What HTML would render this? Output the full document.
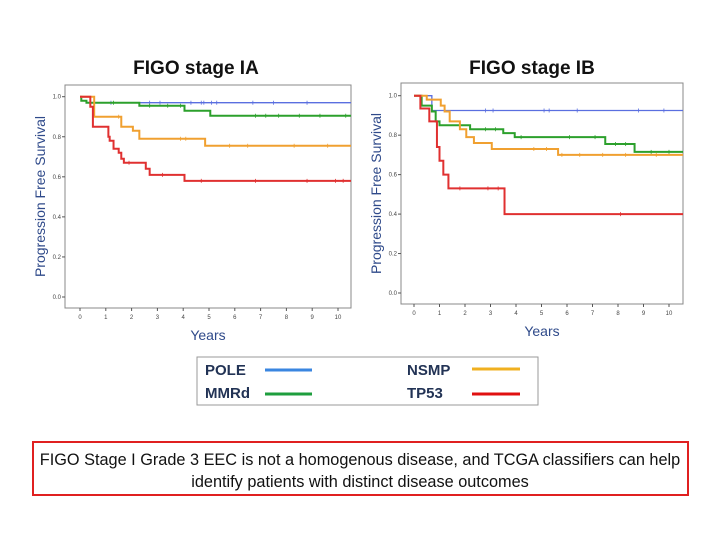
<!DOCTYPE html>
<html><head><meta charset="utf-8"><style>
body{margin:0;background:#fff;width:720px;height:540px;overflow:hidden;font-family:"Liberation Sans","DejaVu Sans",sans-serif}
</style></head><body>
<svg id="s" width="720" height="540" xmlns="http://www.w3.org/2000/svg">
<text x="196" y="74" text-anchor="middle" font-size="19" font-weight="bold" fill="#111">FIGO stage IA</text>
<text x="532" y="74" text-anchor="middle" font-size="19" font-weight="bold" fill="#111">FIGO stage IB</text>
<g id="p1"></g>
<g id="p2"></g>
<rect x="197" y="357" width="341" height="48" fill="none" stroke="#999"/>
<g font-size="15" fill="#223355" font-weight="bold">
<text x="205" y="375">POLE</text>
<text x="205" y="398">MMRd</text>
<text x="407" y="375">NSMP</text>
<text x="407" y="398">TP53</text>
</g>
<line x1="265" y1="370" x2="312" y2="370" stroke="#3a86e0" stroke-width="3"/>
<line x1="265" y1="394" x2="312" y2="394" stroke="#1e9e3e" stroke-width="3"/>
<line x1="472" y1="369" x2="520" y2="369" stroke="#f0b020" stroke-width="3"/>
<line x1="472" y1="394" x2="520" y2="394" stroke="#e01010" stroke-width="3"/>
<rect x="33" y="442" width="655" height="53" fill="none" stroke="#e02020" stroke-width="2"/>
<text x="360" y="465" text-anchor="middle" font-size="16.3" fill="#111">FIGO Stage I Grade 3 EEC is not a homogenous disease, and TCGA classifiers can help</text>
<text x="360" y="487" text-anchor="middle" font-size="16.3" fill="#111">identify patients with distinct disease outcomes</text>
</svg>
<script>
const yTicks=[0,0.2,0.4,0.6,0.8,1.0];
const yTickLabels=["0.0","0.2","0.4","0.6","0.8","1.0"];
const xTicks=[0,1,2,3,4,5,6,7,8,9,10];
const seriesNames=["POLE","MMRd","NSMP","TP53"];
const seriesColors=["#5a6fe0","#2ca02c","#f0a030","#e03030"];
// Stage IA: step times and survival values
const iaPoleT=[0,0.4], iaPoleV=[1,0.97];
const iaMmrdT=[0,0.05,0.25,2.3,4.05,5.05], iaMmrdV=[1,0.98,0.97,0.955,0.93,0.905];
const iaNsmpT=[0,0.55,1.6,2.05,2.3,4.85], iaNsmpV=[1,0.9,0.85,0.83,0.79,0.755];
const iaTp53T=[0,0.4,0.5,1.1,1.15,1.3,1.5,1.6,1.7,2.55,2.7,4.05], iaTp53V=[1,0.95,0.85,0.8,0.78,0.74,0.72,0.69,0.67,0.64,0.61,0.58];
// Stage IB
const ibPoleT=[0,0.7], ibPoleV=[1,0.925];
const ibMmrdT=[0,0.3,0.7,0.85,1.0,2.2,3.5,3.95,7.5,8.65], ibMmrdV=[1,0.95,0.92,0.87,0.85,0.83,0.81,0.79,0.755,0.715];
const ibNsmpT=[0,0.5,1.05,1.2,1.4,1.8,2.05,2.35,3.05,5.65], ibNsmpV=[1,0.98,0.95,0.92,0.87,0.83,0.79,0.76,0.73,0.70];
const ibTp53T=[0,0.25,0.6,0.9,1.0,1.15,1.35,3.55], ibTp53V=[1,0.935,0.87,0.74,0.67,0.6,0.53,0.40];
const iaCensor=[[1.2,2.7,3.1,4.3,4.7,4.8,5.1,5.3,6.7,7.5,8.8],[1.3,2.7,3.4,3.9,6.8,7.2,7.7,8.5,9.3,10.3],[1.5,3.9,4.1,5.8,6.5,8.3,9.6],[1.9,3.2,4.7,6.8,8.8,9.9,10.2]];
const ibCensor=[[2.8,3.1,5.1,5.3,6.4,8.8,9.8],[2.8,3.2,4.2,6.1,7.1,7.9,8.3,9.3,10],[4.7,5.2,5.8,6.5,7.4,8.3,9.5],[1.8,2.9,3.3,8.1]];
const NS="http://www.w3.org/2000/svg";
function mk(tag,at,parent){const e=document.createElementNS(NS,tag);for(const k in at)e.setAttribute(k,at[k]);parent.appendChild(e);return e;}
function draw(g,geo,sets,censors,key){
  const sx=t=>geo.x0+t*(geo.x10-geo.x0)/10, sy=v=>geo.y0-v*(geo.y0-geo.y1);
  const fr=mk('rect',{x:geo.fl,y:geo.ft,width:geo.fr-geo.fl,height:geo.fb-geo.ft,fill:'none',stroke:'#888'},g);
  
  
  yTicks.forEach((v,i)=>{
    const l=mk('line',{x1:geo.fl-3,x2:geo.fl,y1:sy(v),y2:sy(v),stroke:'#555'},g);
    
    
    const t=mk('text',{x:geo.fl-4,y:sy(v)+2,'font-size':6,'text-anchor':'end',fill:'#444'},g);t.textContent=yTickLabels[i];
    
    
  });
  xTicks.forEach(v=>{
    const l=mk('line',{x1:sx(v),x2:sx(v),y1:geo.fb,y2:geo.fb+3,stroke:'#555'},g);
    
    
    const t=mk('text',{x:sx(v),y:geo.fb+11,'font-size':6,'text-anchor':'middle',fill:'#444'},g);t.textContent=v;
    
    
  });
  const xt=mk('text',{x:(geo.fl+geo.fr)/2,y:geo.fb+32,'font-size':14,'text-anchor':'middle',fill:'#2f4a8a'},g);xt.textContent='Years';
  
  
  const yt=mk('text',{x:0,y:0,'font-size':14,'text-anchor':'middle',fill:'#2f4a8a',transform:`translate(${geo.fl-20},${(geo.ft+geo.fb)/2}) rotate(-90)`},g);yt.textContent='Progression Free Survival';
  
  
  sets.forEach((s,i)=>{
    const T=s[0],V=s[1];let d='M'+sx(T[0])+','+sy(V[0]);
    for(let k=1;k<T.length;k++){d+=' H'+sx(T[k])+' V'+sy(V[k]);}
    d+=' H'+geo.fr;
    const p=mk('path',{d:d,fill:'none',stroke:seriesColors[i],'stroke-width':i==0?1.3:2},g);
    
    
    censors[i].forEach(c=>{
      let v=V[0];for(let k=0;k<T.length;k++)if(T[k]<=c)v=V[k];
      const m=mk('line',{x1:sx(c),x2:sx(c),y1:sy(v)-2,y2:sy(v)+2,stroke:seriesColors[i],'stroke-width':0.8},g);
      
      
    });
  });
}
draw(document.getElementById('p1'),{fl:65,fr:351,ft:85,fb:308,x0:80,x10:338,y0:297,y1:96.7},
 [[iaPoleT,iaPoleV],[iaMmrdT,iaMmrdV],[iaNsmpT,iaNsmpV],[iaTp53T,iaTp53V]],iaCensor,'ia');
draw(document.getElementById('p2'),{fl:401,fr:683,ft:83,fb:304,x0:414,x10:669,y0:293,y1:95.7},
 [[ibPoleT,ibPoleV],[ibMmrdT,ibMmrdV],[ibNsmpT,ibNsmpV],[ibTp53T,ibTp53V]],ibCensor,'ib');
</script>
</body></html>
